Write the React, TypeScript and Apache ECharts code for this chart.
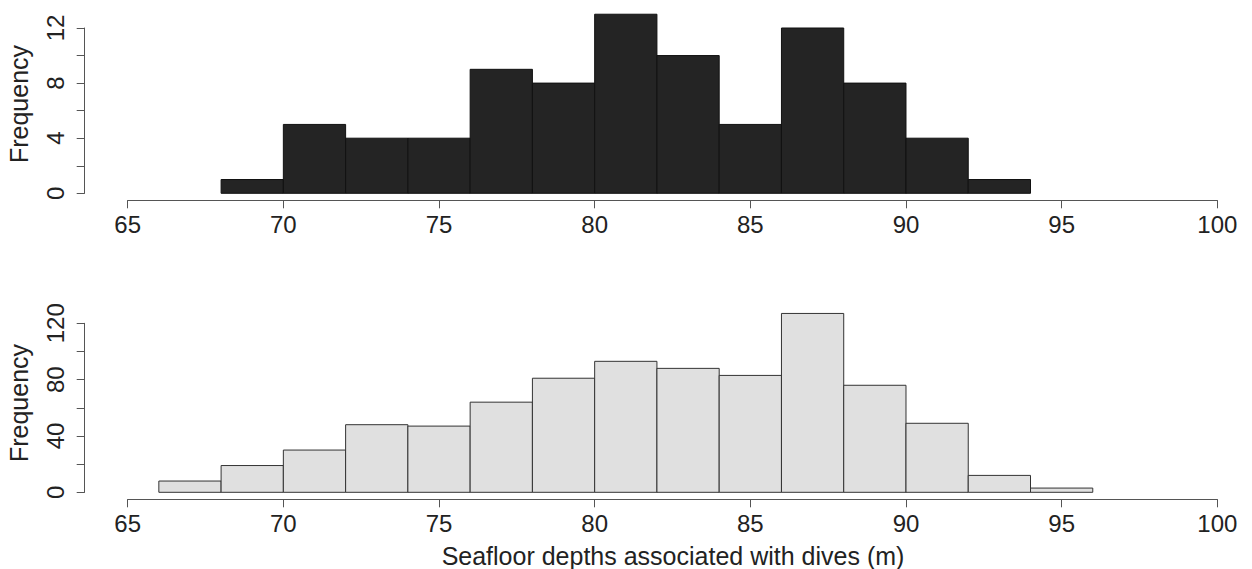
import { useEffect, useRef } from 'react';

import * as echarts from 'echarts';

// histogram bins (left edges), bin width 2 m
const binWidth = 2;
const topBinStarts = [68, 70, 72, 74, 76, 78, 80, 82, 84, 86, 88, 90, 92];
const topCounts = [1, 5, 4, 4, 9, 8, 13, 10, 5, 12, 8, 4, 1];
const bottomBinStarts = [66, 68, 70, 72, 74, 76, 78, 80, 82, 84, 86, 88, 90, 92, 94];
const bottomCounts = [8, 19, 30, 48, 47, 64, 81, 93, 88, 83, 127, 76, 49, 12, 3];

const xTicks = [65, 70, 75, 80, 85, 90, 95, 100];
const topYTicks = [0, 4, 8, 12];
const bottomYTicks = [0, 40, 80, 120];

const xTitle = 'Seafloor depths associated with dives (m)';
const yTitle = 'Frequency';

const FONT = 'Liberation Sans, Arial, Helvetica, sans-serif';
const TEXT = '#222';
const AXIS = '#555';

const toBins = (starts: number[], counts: number[]) =>
    starts.map((s, i) => [s, s + binWidth, counts[i]]);

const histRender = (fill: string, stroke: string) => (params: any, api: any) => {
    const a = api.coord([api.value(0), api.value(2)]);
    const b = api.coord([api.value(1), 0]);
    return {
        type: 'rect',
        shape: { x: a[0], y: a[1], width: b[0] - a[0], height: b[1] - a[1] },
        style: { fill, stroke, lineWidth: 1 },
    };
};

const xAxisBase = (gridIndex: number) => ({
    type: 'value' as const,
    gridIndex,
    min: xTicks[0],
    max: xTicks[xTicks.length - 1],
    interval: 5,
    offset: 7,
    splitLine: { show: false },
    axisLine: { show: true, onZero: false, lineStyle: { color: AXIS, width: 1 } },
    axisTick: { show: true, length: 8, lineStyle: { color: AXIS, width: 1 } },
    axisLabel: { fontSize: 24, fontFamily: FONT, color: TEXT, margin: 12 },
});

const yAxisBase = (gridIndex: number, max: number, interval: number, labels: number[]) => ({
    type: 'value' as const,
    gridIndex,
    min: 0,
    max,
    interval,
    offset: 43,
    splitLine: { show: false },
    axisLine: { show: true, lineStyle: { color: AXIS, width: 1 } },
    axisTick: { show: true, length: 8, lineStyle: { color: AXIS, width: 1 } },
    axisLabel: {
        fontSize: 24,
        fontFamily: FONT,
        color: TEXT,
        rotate: 90,
        margin: 17,
        formatter: (v: number) => (labels.includes(v) ? String(v) : ''),
    },
});

const App = () => {
    const chartRef = useRef<HTMLDivElement | null>(null);

    useEffect(() => {
        const chart = echarts.init(chartRef.current!, null, { renderer: 'svg' });

        const option: any = {
            animation: false,
            grid: [
                { left: 127.7, right: 34.7, top: 28, bottom: 375.7 },
                { left: 127.7, right: 34.7, top: 323.3, bottom: 76.7 },
            ],
            xAxis: [xAxisBase(0), xAxisBase(1)],
            yAxis: [
                yAxisBase(0, topYTicks[topYTicks.length - 1], 2, topYTicks),
                yAxisBase(1, bottomYTicks[bottomYTicks.length - 1], 20, bottomYTicks),
            ],
            series: [
                {
                    type: 'custom',
                    xAxisIndex: 0,
                    yAxisIndex: 0,
                    clip: false,
                    renderItem: histRender('#242424', '#111'),
                    encode: { x: [0, 1], y: 2 },
                    data: toBins(topBinStarts, topCounts),
                },
                {
                    type: 'custom',
                    xAxisIndex: 1,
                    yAxisIndex: 1,
                    clip: false,
                    renderItem: histRender('#e0e0e0', '#333'),
                    encode: { x: [0, 1], y: 2 },
                    data: toBins(bottomBinStarts, bottomCounts),
                },
            ],
            graphic: [
                {
                    type: 'text',
                    x: 19,
                    y: 104,
                    rotation: Math.PI / 2,
                    style: { text: yTitle, fontSize: 25, fontFamily: FONT, fill: TEXT, align: 'center', verticalAlign: 'middle' },
                },
                {
                    type: 'text',
                    x: 19,
                    y: 403,
                    rotation: Math.PI / 2,
                    style: { text: yTitle, fontSize: 25, fontFamily: FONT, fill: TEXT, align: 'center', verticalAlign: 'middle' },
                },
                {
                    type: 'text',
                    x: 673,
                    y: 556,
                    style: { text: xTitle, fontSize: 25, fontFamily: FONT, fill: TEXT, align: 'center', verticalAlign: 'middle' },
                },
            ],
        };

        chart.setOption(option);

        return () => {
            chart.dispose();
        };
    }, []);

    return (
        <div
            ref={chartRef}
            style={{ position: 'absolute', left: 0, top: 0, width: 1252, height: 569 }}
        />
    );
};

export default App;
